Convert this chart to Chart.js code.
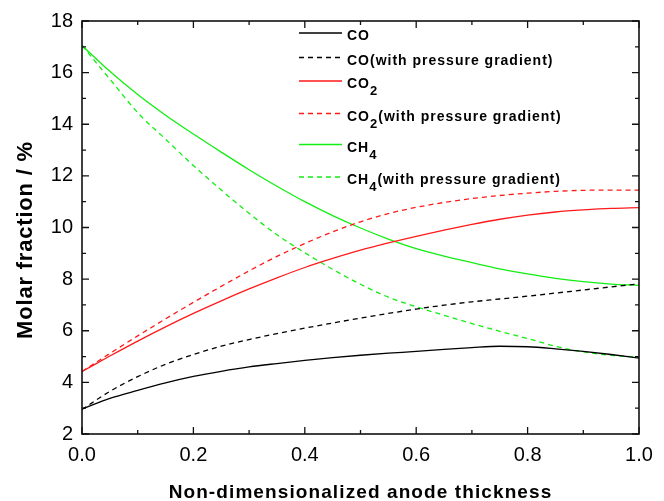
<!DOCTYPE html>
<html>
<head>
<meta charset="utf-8">
<script src="https://cdn.jsdelivr.net/npm/chart.js@4/dist/chart.umd.min.js"></script>
<style>
  html, body { margin: 0; padding: 0; background: #fff; }
  #wrap { width: 664px; height: 501px; }
</style>
</head>
<body>
<div id="wrap"><canvas id="c" width="664" height="501"></canvas></div>
<script>
// Non-dimensionalized anode thickness positions
const thickness = [0, 0.05, 0.1, 0.15, 0.2, 0.25, 0.3, 0.35, 0.4, 0.45, 0.5,
                   0.55, 0.6, 0.65, 0.7, 0.75, 0.8, 0.85, 0.9, 0.95, 1.0];

// Molar fractions (%)
const co      = [2.97, 3.38, 3.69, 3.98, 4.23, 4.43, 4.60, 4.73, 4.85, 4.96, 5.05,
                 5.13, 5.20, 5.28, 5.35, 5.40, 5.38, 5.30, 5.20, 5.08, 4.94];
const coGrad  = [2.95, 3.65, 4.22, 4.70, 5.08, 5.40, 5.66, 5.89, 6.10, 6.30, 6.49,
                 6.67, 6.84, 6.99, 7.12, 7.23, 7.34, 7.46, 7.58, 7.70, 7.82];
const co2     = [4.42, 5.02, 5.60, 6.15, 6.67, 7.16, 7.62, 8.05, 8.45, 8.80, 9.12,
                 9.40, 9.66, 9.90, 10.12, 10.32, 10.48, 10.60, 10.68, 10.74, 10.77];
const co2Grad = [4.42, 5.12, 5.80, 6.46, 7.10, 7.72, 8.32, 8.88, 9.38, 9.83, 10.22,
                 10.54, 10.78, 10.97, 11.12, 11.24, 11.33, 11.40, 11.44, 11.45, 11.45];
const ch4     = [17.05, 16.05, 15.15, 14.35, 13.62, 12.92, 12.24, 11.60, 11.00, 10.46, 9.98,
                 9.55, 9.18, 8.89, 8.64, 8.40, 8.20, 8.03, 7.90, 7.81, 7.76];
const ch4Grad = [17.05, 15.75, 14.45, 13.42, 12.40, 11.45, 10.55, 9.72, 9.02, 8.38, 7.80,
                 7.30, 6.93, 6.60, 6.28, 5.98, 5.70, 5.40, 5.18, 5.05, 4.98];

// Axis ticks
const xTicks = [0, 0.2, 0.4, 0.6, 0.8, 1.0];
const yTicks = [2, 4, 6, 8, 10, 12, 14, 16, 18];

const BLACK = '#000000', RED = '#ff1a1a', GREEN = '#12ee12';
const DASH = [5, 4];
const FONT = '"Liberation Sans", Arial, sans-serif';

const pts = arr => thickness.map((t, i) => ({ x: t, y: arr[i] }));

// Legend entries: [main text, subscript, trailing text]
const legendItems = [
  { parts: ['CO', '', ''], color: BLACK, dash: [] },
  { parts: ['CO(with pressure gradient)', '', ''], color: BLACK, dash: DASH },
  { parts: ['CO', '2', ''], color: RED, dash: [] },
  { parts: ['CO', '2', '(with pressure gradient)'], color: RED, dash: DASH },
  { parts: ['CH', '4', ''], color: GREEN, dash: [] },
  { parts: ['CH', '4', '(with pressure gradient)'], color: GREEN, dash: DASH }
];
const legendRowsY = [33, 57.5, 81, 113.5, 144.5, 177];

const frameAndTicks = {
  id: 'frameAndTicks',
  afterDraw(chart) {
    const { ctx, chartArea: a, scales: { x, y } } = chart;
    ctx.save();
    ctx.strokeStyle = '#111';
    ctx.lineWidth = 1.6;
    ctx.strokeRect(a.left, a.top, a.right - a.left, a.bottom - a.top);
    ctx.lineWidth = 1.3;
    ctx.beginPath();
    for (let v = 0; v <= 10; v++) {
      const px = x.getPixelForValue(v / 10);
      const len = v % 2 === 0 ? 7 : 4;
      ctx.moveTo(px, a.bottom); ctx.lineTo(px, a.bottom - len);
      ctx.moveTo(px, a.top); ctx.lineTo(px, a.top + len);
    }
    for (let v = 2; v <= 18; v++) {
      const py = y.getPixelForValue(v);
      const len = v % 2 === 0 ? 7 : 4;
      ctx.moveTo(a.left, py); ctx.lineTo(a.left + len, py);
      ctx.moveTo(a.right, py); ctx.lineTo(a.right - len, py);
    }
    ctx.stroke();

    // Axis titles
    ctx.fillStyle = '#000';
    ctx.textAlign = 'center';
    ctx.textBaseline = 'alphabetic';
    ctx.font = 'bold 19px ' + FONT;
    ctx.letterSpacing = '1.1px';
    ctx.fillText('Non-dimensionalized anode thickness', (a.left + a.right) / 2, 498);
    ctx.font = 'bold 22px ' + FONT;
    ctx.letterSpacing = '0.8px';
    ctx.translate(32, 240);
    ctx.rotate(-Math.PI / 2);
    ctx.fillText('Molar fraction / %', 0, 0);
    ctx.restore();

    // Legend
    ctx.save();
    ctx.letterSpacing = '1px';
    legendItems.forEach((it, i) => {
      const ly = legendRowsY[i];
      ctx.strokeStyle = it.color;
      ctx.lineWidth = 1.3;
      ctx.setLineDash(it.dash);
      ctx.beginPath();
      ctx.moveTo(299, ly); ctx.lineTo(342, ly);
      ctx.stroke();
      ctx.setLineDash([]);
      ctx.fillStyle = '#000';
      ctx.textAlign = 'left';
      ctx.textBaseline = 'alphabetic';
      const base = ly + 7;
      let tx = 347;
      ctx.font = 'bold 14px ' + FONT;
      ctx.fillText(it.parts[0], tx, base);
      tx += ctx.measureText(it.parts[0]).width;
      if (it.parts[1]) {
        ctx.font = 'bold 13px ' + FONT;
        ctx.fillText(it.parts[1], tx, base + 7);
        tx += ctx.measureText(it.parts[1]).width;
      }
      if (it.parts[2]) {
        ctx.font = 'bold 14px ' + FONT;
        ctx.fillText(it.parts[2], tx, base);
      }
    });
    ctx.restore();
  }
};

const line = (arr, color, dash) => ({
  data: pts(arr),
  borderColor: color,
  borderWidth: 1.3,
  borderDash: dash,
  pointRadius: 0,
  fill: false,
  cubicInterpolationMode: 'monotone'
});

new Chart(document.getElementById('c'), {
  type: 'line',
  data: {
    datasets: [
      line(co, BLACK, []),
      line(coGrad, BLACK, DASH),
      line(co2, RED, []),
      line(co2Grad, RED, DASH),
      line(ch4, GREEN, []),
      line(ch4Grad, GREEN, DASH)
    ]
  },
  options: {
    responsive: false,
    animation: false,
    devicePixelRatio: 1,
    layout: { padding: { top: 21, right: 25, left: 0, bottom: 0 } },
    plugins: { legend: { display: false }, tooltip: { enabled: false } },
    scales: {
      x: {
        type: 'linear', min: 0, max: 1,
        afterFit(s) { s.height = 67; },
        afterBuildTicks(s) { s.ticks = xTicks.map(v => ({ value: v })); },
        grid: { display: false, drawTicks: false },
        border: { display: false },
        ticks: {
          padding: 9, color: '#000',
          font: { family: FONT, size: 20 },
          callback: v => Number(v).toFixed(1)
        }
      },
      y: {
        type: 'linear', min: 2, max: 18,
        afterFit(s) { s.width = 82; },
        afterBuildTicks(s) { s.ticks = yTicks.map(v => ({ value: v })); },
        grid: { display: false, drawTicks: false },
        border: { display: false },
        ticks: {
          padding: 9, color: '#000',
          font: { family: FONT, size: 20 }
        }
      }
    }
  },
  plugins: [frameAndTicks]
});
</script>
</body>
</html>
